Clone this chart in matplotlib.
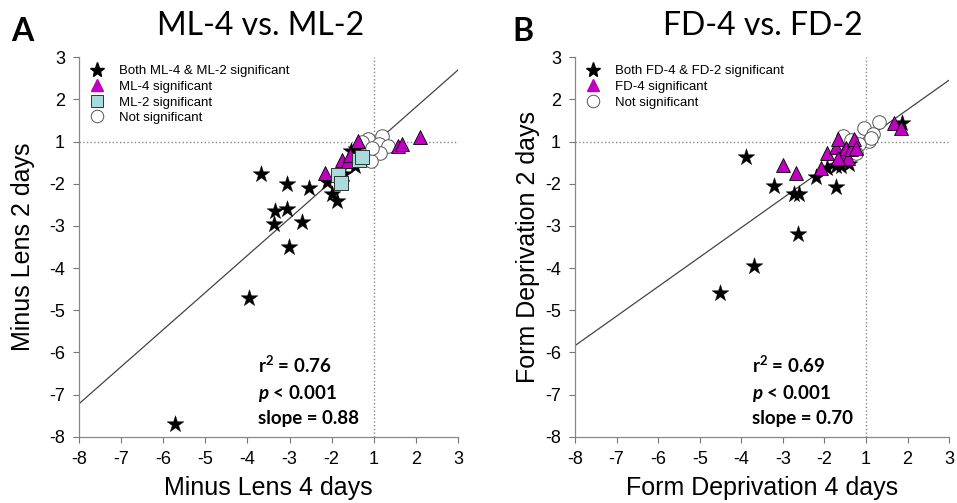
import matplotlib
matplotlib.use("Agg")
import matplotlib.pyplot as plt
from matplotlib.lines import Line2D

plt.rcParams['font.family'] = ['Liberation Sans', 'DejaVu Sans']
plt.rcParams['mathtext.fontset'] = 'custom'
plt.rcParams['mathtext.rm'] = 'Lato:bold'
plt.rcParams['mathtext.bf'] = 'Lato:bold'
plt.rcParams['mathtext.bfit'] = 'Lato:bold:italic'

# axis positions run -7..2; labels skip the -1..1 gap of signed fold change
tick_pos = [-7, -6, -5, -4, -3, -2, -1, 0, 1, 2]
tick_labels = ['-8', '-7', '-6', '-5', '-4', '-3', '-2', '1', '2', '3']

# --- Minus lens: ML-4 (x) vs ML-2 (y) ---
ml_both_x = [-2.68, -2.06, -1.53, -2.35, -2.07, -2.36, -1.70, -2.02, -2.97, -4.72,
             -1.11, -0.99, -0.87, -0.70, -0.53, -0.42, -0.44, -0.60]
ml_both_y = [-0.76, -1.00, -1.09, -1.64, -1.60, -1.96, -1.91, -2.51, -3.72, -6.69,
             -0.96, -1.25, -1.41, -0.77, -0.22, -0.18, -0.58, -0.50]
ml4_x = [-1.15, -0.76, -0.62, -0.56, -0.38, 0.58, 0.68, 1.10]
ml4_y = [-0.75, -0.44, -0.47, -0.32, 0.02, -0.11, -0.06, 0.10]
ml2_x = [-0.84, -0.78, -0.36, -0.27]
ml2_y = [-0.79, -0.98, -0.44, -0.36]
ml_ns_x = [-0.13, 0.19, 0.13, 0.33, 0.15, -0.07, -0.27, -0.05]
ml_ns_y = [0.06, 0.13, -0.06, -0.10, -0.26, -0.46, -0.02, -0.15]
ml_slope, ml_icpt = 0.88, -0.06

# --- Form deprivation: FD-4 (x) vs FD-2 (y) ---
fd_both_x = [-2.89, -2.21, -1.72, -1.62, -1.64, -1.21, -0.93, -0.71, -0.59, -0.41,
             -0.71, 0.87, -2.69, -3.52]
fd_both_y = [-0.36, -1.05, -1.25, -1.25, -2.20, -0.83, -0.62, -0.58, -0.58, -0.54,
             -1.07, 0.45, -2.95, -3.58]
fd4_x = [-2.00, -1.68, -1.08, -0.95, -0.71, -0.67, -0.55, -0.47, -0.43, -0.36,
         -0.28, -0.24, -0.67, 0.67, 0.83]
fd4_y = [-0.55, -0.74, -0.62, -0.28, -0.12, 0.06, -0.26, -0.14, -0.38, -0.18,
         0.06, -0.14, -0.38, 0.45, 0.33]
fd_ns_x = [-0.55, -0.04, 0.32, 0.16, 0.08, -0.16, -0.24, 0.12, -0.35]
fd_ns_y = [0.14, 0.33, 0.47, 0.18, 0.02, -0.06, -0.26, 0.08, 0.05]
fd_slope, fd_icpt = 0.70, 0.06

STAR = dict(marker='*', s=160, c='black', edgecolors='black', linewidths=0.3, zorder=4)
TRI = dict(marker='^', s=100, c='#c000c0', edgecolors='black', linewidths=0.6, zorder=5)
SQR = dict(marker='s', s=90, c='#a8dcdc', edgecolors='#333333', linewidths=0.7, zorder=6)
CIRC = dict(marker='o', s=95, c='white', edgecolors='#555555', linewidths=0.7, zorder=3)


def setup_axes(ax, slope, icpt):
    ax.set_xlim(-7, 2)
    ax.set_ylim(-7, 2)
    ax.set_xticks(tick_pos)
    ax.set_xticklabels(tick_labels)
    ax.set_yticks(tick_pos)
    ax.set_yticklabels(tick_labels)
    ax.tick_params(labelsize=13, length=4, width=0.8, color='#777777', pad=6)
    for side in ('top', 'right'):
        ax.spines[side].set_visible(False)
    for side in ('left', 'bottom'):
        ax.spines[side].set_color('#888888')
        ax.spines[side].set_linewidth(0.9)
    ax.axhline(0, color='#888888', ls=':', lw=1.0, zorder=1)
    ax.axvline(0, color='#888888', ls=':', lw=1.0, zorder=1)
    ax.plot([-7, 2], [slope * -7 + icpt, slope * 2 + icpt], color='#444444', lw=0.9, zorder=2)


def stats(ax, r2, slope):
    kw = dict(transform=ax.transData, fontsize=13.5, fontfamily='Lato', fontweight='bold', va='baseline')
    ax.text(-2.74, -5.49, r'r$^{\mathbf{2}}$ = %.2f' % r2, **kw)
    ax.text(-2.74, -6.10, r'$\mathbfit{p}$ < 0.001', **kw)
    ax.text(-2.74, -6.70, 'slope = %.2f' % slope, **kw)


fig = plt.figure(figsize=(9.57, 5.03), dpi=100)
axA = fig.add_axes([0.0825, 0.1318, 0.3961, 0.7542])
axB = fig.add_axes([0.6008, 0.1318, 0.3910, 0.7542])

legend_kw = dict(loc='upper left', bbox_to_anchor=(0.0, 1.0), frameon=False, fontsize=9.5,
                 labelspacing=0.25, handletextpad=0.9, borderaxespad=0.2, handlelength=1.5)

# panel A
setup_axes(axA, ml_slope, ml_icpt)
axA.scatter(ml_ns_x, ml_ns_y, **CIRC)
axA.scatter(ml_both_x, ml_both_y, **STAR)
axA.scatter(ml4_x, ml4_y, **TRI)
axA.scatter(ml2_x, ml2_y, **SQR)
stats(axA, 0.76, ml_slope)
handlesA = [
    Line2D([], [], ls='', marker='*', ms=11, mfc='black', mec='black'),
    Line2D([], [], ls='', marker='^', ms=9, mfc='#c000c0', mec='#c000c0'),
    Line2D([], [], ls='', marker='s', ms=8.5, mfc='#a8dcdc', mec='#333333', mew=0.7),
    Line2D([], [], ls='', marker='o', ms=9, mfc='white', mec='#555555', mew=0.7),
]
axA.legend(handlesA, ['Both ML-4 & ML-2 significant', 'ML-4 significant',
                      'ML-2 significant', 'Not significant'], **legend_kw)
axA.set_xlabel('Minus Lens 4 days', fontsize=18, labelpad=6)
axA.set_ylabel('Minus Lens 2 days', fontsize=18, labelpad=10)
fig.text(0.272, 0.948, 'ML-4 vs. ML-2', fontsize=23, fontfamily='Lato', ha='center', va='center')
fig.text(0.012, 0.938, 'A', fontsize=23, fontfamily='Lato', fontweight='bold', ha='left', va='center')

# panel B
setup_axes(axB, fd_slope, fd_icpt)
axB.scatter(fd_ns_x, fd_ns_y, **CIRC)
axB.scatter(fd_both_x, fd_both_y, **STAR)
axB.scatter(fd4_x, fd4_y, **TRI)
stats(axB, 0.69, fd_slope)
handlesB = [handlesA[0], handlesA[1], handlesA[3]]
axB.legend(handlesB, ['Both FD-4 & FD-2 significant', 'FD-4 significant', 'Not significant'],
           **legend_kw)
axB.set_xlabel('Form Deprivation 4 days', fontsize=18, labelpad=6)
axB.set_ylabel('Form Deprivation 2 days', fontsize=18, labelpad=4)
fig.text(0.797, 0.948, 'FD-4 vs. FD-2', fontsize=23, fontfamily='Lato', ha='center', va='center')
fig.text(0.535, 0.938, 'B', fontsize=23, fontfamily='Lato', fontweight='bold', ha='left', va='center')

fig.savefig('out.png', dpi=100)
